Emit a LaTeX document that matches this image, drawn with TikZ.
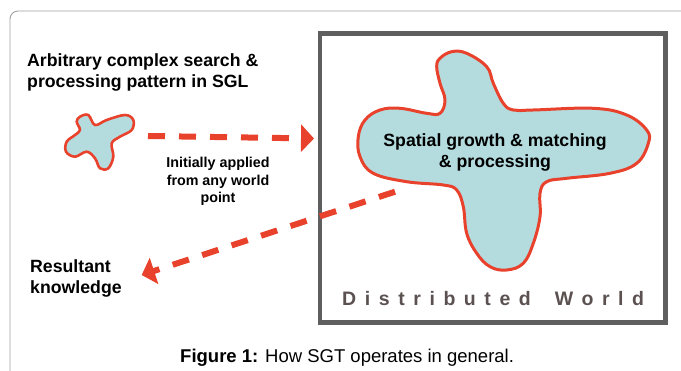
\documentclass[tikz,border=0pt]{standalone}
\usepackage{fontspec}
\setmainfont{Liberation Sans}
\usetikzlibrary{arrows.meta}
\definecolor{sred}{HTML}{E8412C}
\definecolor{sblue}{HTML}{B4DCDF}
\definecolor{boxgray}{HTML}{5F5F5F}
\definecolor{wgray}{HTML}{5B5150}
\definecolor{framegray}{HTML}{A0A0A0}
\tikzset{
  blob/.style={draw=sred, fill=sblue, line width=2.6pt, line join=round},
  flow/.style={draw=sred, line width=6pt, dash pattern=on 17pt off 14pt,
    -{Triangle[length=13pt,width=27pt,fill=sred]}},
  lbl/.style={inner sep=0pt, font=\bfseries\fontsize{17.7}{21}\selectfont},
  smalllbl/.style={inner sep=0pt, align=center, font=\bfseries\fontsize{14.3}{17.5}\selectfont}
}
\begin{document}
\begin{tikzpicture}[x=1pt,y=-1pt]
\useasboundingbox (0,0) rectangle (681,371);
\clip (0,0) rectangle (681,371);
% outer frame
\draw[framegray, line width=0.9pt, rounded corners=8pt] (10,400) -- (10,11) -- (700,11);
% world box
\draw[boxgray, line width=4.5pt] (320,33.5) rectangle (665.5,322.5);
% big blob
\draw[blob, line width=3pt] plot[smooth cycle, tension=0.65] coordinates {
 (440,58.3) (451.7,51.7) (466.7,53.3) (486.7,66.7) (493.3,83.3) (503.3,103.3)
 (513.3,110) (533.3,110) (593.3,108.3) (626.7,115) (646.7,130) (648.3,143.3)
 (636.7,163.3) (610,173.3) (566.7,178.3) (546.7,181.7) (540,193.3) (540,216.7)
 (533.3,243.3) (523.3,263.3) (506.7,270) (490,266.7) (476.7,253.3) (466.7,233.3)
 (463.3,206.7) (456.7,190) (443.3,185) (406.7,181.7) (373.3,173.3) (360,156.7)
 (358.3,136.7) (365,120) (380,110) (400,108.3) (426.7,113.3) (440,113.3)
 (445,100) (440,83.3) (436.7,66.7)};
% small blob
\draw[blob] plot[smooth cycle, tension=0.6] coordinates {
 (80,116.7) (88.3,115) (95,125) (106.7,120) (125,115) (133.3,120) (131.7,130)
 (120,136.7) (111.7,143.3) (113.3,156.7) (108.3,168.3) (100,168.3) (95,158.3)
 (86.7,151.7) (75,156.7) (66,151.7) (66.7,141.7) (75,135) (80,130) (76.7,121.7)};
% texts
\node[lbl, anchor=north west, align=left] (pattern) at (27,53.5)
  {Arbitrary complex search \&\\processing pattern in SGL};
\node[smalllbl, anchor=north] (applied) at (218,157)
  {Initially applied\\from any world\\point};
\node[lbl, anchor=north west, align=left] (result) at (30,259)
  {Resultant\\knowledge};
\node[lbl, anchor=north, align=center] (spatial) at (495,133.5)
  {Spatial growth \& matching\\\& processing};
\node[inner sep=0pt, anchor=base west, text=wgray,
  font=\bfseries\fontsize{19.5}{22}\selectfont\addfontfeature{LetterSpace=44}] (world) at (342,306)
  {Distributed\hspace{10pt} World};
\node[inner sep=0pt, anchor=base west, font=\fontsize{18.5}{22}\selectfont] (caption) at (180,363)
  {\textbf{Figure 1:} How SGT operates in general.};
% connectors
\coordinate (a1s) at (148,136);
\coordinate (a1e) at (314,138.5);
\coordinate (a2s) at (395,191.7);
\coordinate (a2e) at (141.7,275);
\draw[flow] (a1s) -- (a1e);
\draw[flow] (a2s) -- (a2e);
\end{tikzpicture}
\end{document}
